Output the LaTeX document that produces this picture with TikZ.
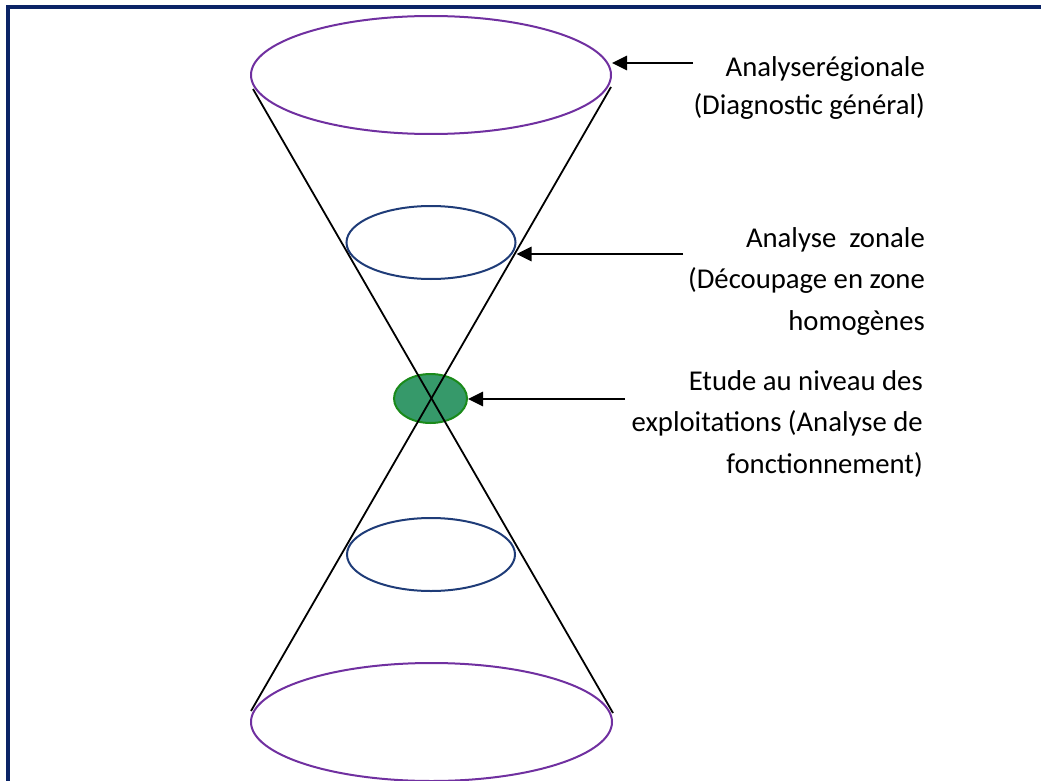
\documentclass[tikz,border=0pt]{standalone}
\usepackage{fontspec}
\setmainfont{Carlito}
\usetikzlibrary{shapes.geometric,arrows.meta}
\definecolor{hgnavy}{HTML}{0B2466}
\definecolor{hgpurple}{HTML}{7030A0}
\definecolor{hgblue}{HTML}{1F3C78}
\definecolor{hggreen}{HTML}{36996A}
\definecolor{hgdkgreen}{HTML}{1A8A1A}

\tikzset{
  lvl/.style={ellipse, draw, line width=2pt, inner sep=0pt},
  pointer/.style={-{Triangle[length=15pt,width=14pt]}, line width=2.8pt},
  caption/.style={anchor=base east, align=right, inner sep=0pt, font=\fontsize{28.7}{41.5}\selectfont}
}

\begin{document}
\begin{tikzpicture}[x=1pt, y=-1pt]
  \useasboundingbox (0,0) rectangle (1041,781);
  \clip (0,0) rectangle (1041,781);
  \draw[hgnavy, line width=3.2pt] (8,7) rectangle (1060,800);

  % levels of the hourglass
  \node[lvl, hgpurple, minimum width=360pt, minimum height=118pt] (top) at (431,75) {};
  \node[lvl, hgblue, minimum width=169pt, minimum height=73pt] (zoneup) at (431,242.5) {};
  \node[lvl, hgdkgreen, fill=hggreen, minimum width=73pt, minimum height=49pt] (farm) at (430.5,398.5) {};
  \node[lvl, hgblue, minimum width=168pt, minimum height=73pt] (zonedown) at (431,554.5) {};
  \node[lvl, hgpurple, minimum width=361pt, minimum height=118pt] (bottom) at (431.5,722) {};

  % the two crossing sides
  \coordinate (tl) at (253,89);
  \coordinate (tr) at (611,87);
  \coordinate (bl) at (251,711);
  \coordinate (br) at (613,713);
  \draw[line width=1.8pt] (tl) -- (br);
  \draw[line width=1.8pt] (tr) -- (bl);

  % captions (base = last line)
  \node[caption, font=\fontsize{28.7}{38}\selectfont] (regional) at (925,115)
    {Analyserégionale\\(Diagnostic général)};
  \node[caption] (zonal) at (925,330)
    {Analyse\ \ zonale\\(Découpage en zone\\homogènes};
  \node[caption] (exploit) at (923,473)
    {Etude au niveau des\\exploitations (Analyse de\\fonctionnement)};

  % pointers
  \coordinate (p1) at (693,63);
  \coordinate (p2) at (683,254);
  \coordinate (p3) at (625,399);
  \draw[pointer] (p1) -- (p1 -| top.east);
  \draw[pointer] (p2) -- (p2 -| zoneup.east);
  \draw[pointer] (p3) -- (p3 -| farm.east);
\end{tikzpicture}
\end{document}
